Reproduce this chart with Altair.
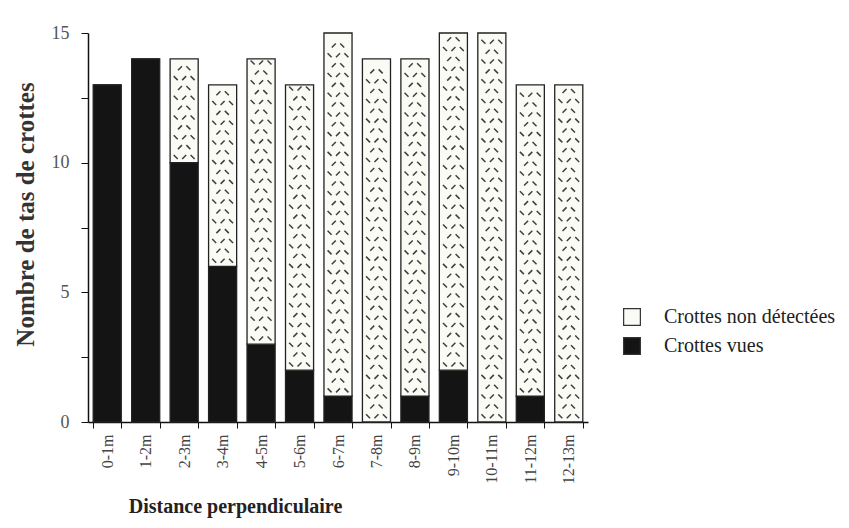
import altair as alt
import pandas as pd
import numpy as np

# ---- data ----
categories = ["0-1m", "1-2m", "2-3m", "3-4m", "4-5m", "5-6m", "6-7m",
              "7-8m", "8-9m", "9-10m", "10-11m", "11-12m", "12-13m"]
crottes_vues = [13, 14, 10, 6, 3, 2, 1, 0, 1, 2, 0, 1, 0]
totaux = [13, 14, 14, 13, 14, 13, 15, 14, 14, 15, 15, 13, 13]
crottes_non_detectees = [t - v for t, v in zip(totaux, crottes_vues)]
series = ["Crottes non détectées", "Crottes vues"]
y_ticks = [0, 2.5, 5, 7.5, 10, 12.5, 15]

rows = []
for c, v, n in zip(categories, crottes_vues, crottes_non_detectees):
    rows.append({"cat": c, "serie": "Crottes vues", "val": v, "ord": 0})
    rows.append({"cat": c, "serie": "Crottes non détectées", "val": n, "ord": 1})
df = pd.DataFrame(rows)

# ---- decorative hatch texture inside the "non détectées" segments ----
tex = []
for c, v, t in zip(categories, crottes_vues, totaux):
    ys = np.arange(v + 0.22, t - 0.12, 0.38)
    for i, yv in enumerate(ys):
        cols = [0.2, 0.5, 0.8] if i % 2 == 0 else [0.35, 0.65]
        for j, bp in enumerate(cols):
            tex.append({"cat": c, "y": float(yv), "bp": bp,
                        "ang": 45 if (i + j) % 2 == 0 else 135})
tex_df = pd.DataFrame(tex)

serif = "Liberation Serif"

x_scale = alt.Scale(type="band", paddingInner=0.27, paddingOuter=0.135)
y_scale = alt.Scale(domain=[0, 15], nice=False, zero=True)

bars = alt.Chart(df).mark_bar(stroke="#222", strokeWidth=1.3).encode(
    x=alt.X("cat:N", sort=categories, scale=x_scale,
            axis=alt.Axis(title="Distance perpendiculaire", labelAngle=-90,
                          labelFont=serif, labelFontSize=16, labelColor="#444",
                          labelPadding=6, tickBand="extent", tickSize=6,
                          tickColor="#111", domainColor="#111", domainWidth=1.5,
                          titleFont=serif, titleFontSize=20, titleFontWeight="bold",
                          titleColor="#222", titleX=147, titleY=90,
                          titleAlign="center", titleBaseline="alphabetic")),
    y=alt.Y("val:Q", stack="zero", scale=y_scale,
            axis=alt.Axis(title="Nombre de tas de crottes", values=y_ticks,
                          labelExpr="datum.value % 5 === 0 ? datum.label : ''",
                          labelFont=serif, labelFontSize=18, labelColor="#555",
                          labelPadding=12, tickSize=7, tickColor="#111",
                          domainColor="#111", domainWidth=1.5, grid=False,
                          titleFont=serif, titleFontSize=25, titleFontWeight="bold",
                          titleColor="#333", titleX=-63, titleY=181,
                          titleAngle=-90, titleAlign="center",
                          titleBaseline="middle")),
    color=alt.Color("serie:N",
                    scale=alt.Scale(domain=series, range=["#fbfbf6", "#141414"]),
                    legend=alt.Legend(title=None, orient="none", legendX=534,
                                      legendY=274, symbolType="square",
                                      symbolSize=280, symbolStrokeColor="#333",
                                      symbolStrokeWidth=1.2, labelFont=serif,
                                      labelFontSize=20, labelColor="#222",
                                      labelLimit=400,
                                      labelOffset=22, rowPadding=7)),
    order=alt.Order("ord:Q"),
)

layers = [bars]
for bp in sorted(tex_df["bp"].unique()):
    layers.append(
        alt.Chart(tex_df[tex_df["bp"] == bp]).mark_point(
            shape="stroke", size=32, strokeWidth=1.5, color="#2a2a2a", opacity=0.9
        ).encode(
            x=alt.X("cat:N", sort=categories, scale=x_scale, bandPosition=float(bp)),
            y=alt.Y("y:Q", scale=y_scale),
            angle=alt.Angle("ang:Q", scale=None),
        )
    )

chart = alt.layer(*layers).properties(
    width=500, height=389,
    autosize=alt.AutoSizeParams(type="none"),
    padding={"left": 80, "top": 25, "right": 250, "bottom": 100},
).configure(background="white").configure_view(stroke=None)

chart.save("out.html", embed_options={"renderer": "svg", "actions": False})
